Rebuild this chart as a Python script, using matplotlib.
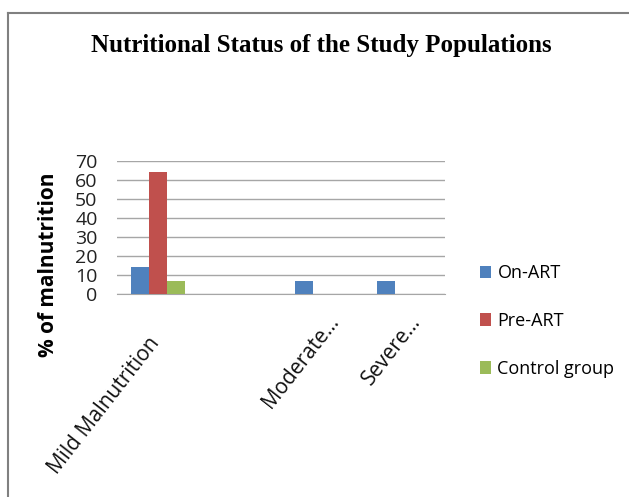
import numpy as np
import matplotlib.pyplot as plt
import matplotlib.transforms as mtransforms
from matplotlib.lines import Line2D

categories = ["Mild Malnutrition", "", "Moderate...", "Severe..."]
series_names = ["On-ART", "Pre-ART", "Control group"]
on_art = [14.3, 0, 7.1, 7.1]
pre_art = [64.3, 0, 0, 0]
control = [7.1, 0, 0, 0]
colors = ["#4f81bd", "#c0504d", "#9bbb59"]
yticks = [0, 10, 20, 30, 40, 50, 60, 70]

W, H = 629, 497
fig = plt.figure(figsize=(W / 100, H / 100), dpi=100)
ax = fig.add_axes([117 / W, 1 - 294 / H, 328 / W, 133 / H])

x = np.arange(len(categories))
bw = 0.22
for i, (vals, name) in enumerate(zip([on_art, pre_art, control], series_names)):
    ax.bar(x + (i - 1) * bw, vals, bw, color=colors[i], label=name, zorder=3)

ax.set_xlim(-0.5, len(categories) - 0.5)
ax.set_ylim(0, 70)
ax.set_yticks(yticks)
ax.set_yticklabels([str(v) for v in yticks], fontsize=14, family="Open Sans", color="#222222")
ax.yaxis.grid(True, color="#a6a6a6", lw=1, zorder=0)
ax.tick_params(axis="y", length=0, pad=14)
ax.tick_params(axis="x", length=0, pad=14)
ax.set_xticks(x)
ax.set_xticklabels(categories, rotation=52, ha="right", va="top", rotation_mode="anchor",
                   fontsize=15, family="Open Sans", color="#111111")
# excel places the long first label a bit lower and to the left
shifts = [(-10, -20), (0, 0), (5, 2), (5, 2)]
for lbl, (dx, dy) in zip(ax.get_xticklabels(), shifts):
    lbl.set_transform(lbl.get_transform() + mtransforms.ScaledTranslation(dx / 100, dy / 100, fig.dpi_scale_trans))
for s in ["top", "right", "left"]:
    ax.spines[s].set_visible(False)
ax.spines["bottom"].set_color("#a6a6a6")

fig.text(49 / W, 1 - 265 / H, "% of malnutrition", rotation=90, ha="center", va="center",
         fontsize=15, fontweight="bold", family="Open Sans")
fig.text(321 / W, 1 - 46 / H, "Nutritional Status of the Study Populations", ha="center", va="center",
         fontsize=18, fontweight="bold", family="Liberation Serif")

leg = fig.legend(loc="upper left", bbox_to_anchor=(464 / W, 1 - 248 / H), frameon=False,
                 prop={"family": "Open Sans", "size": 13}, handlelength=0.6, handleheight=0.7,
                 handletextpad=0.35, labelspacing=1.65)

fig.add_artist(Line2D([8 / W, 8 / W], [0, 1 - 13 / H], color="#808080", lw=1.5, transform=fig.transFigure))
fig.add_artist(Line2D([8 / W, 1], [1 - 13 / H, 1 - 13 / H], color="#808080", lw=1.5, transform=fig.transFigure))

fig.savefig("out.png", dpi=100)
